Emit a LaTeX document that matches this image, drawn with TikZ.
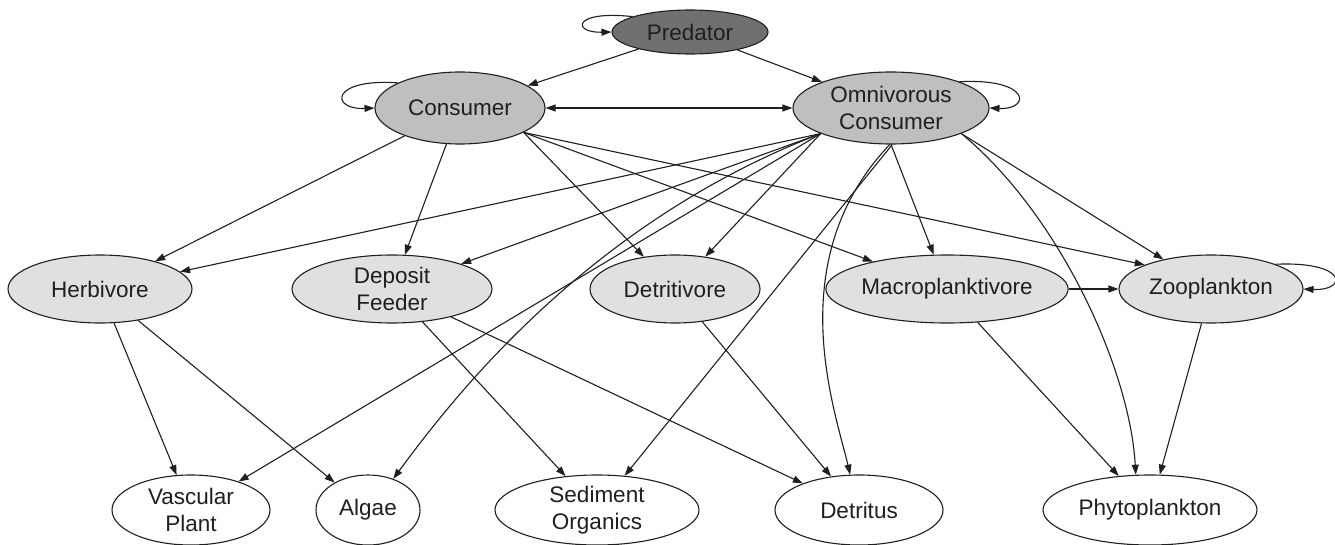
\documentclass[tikz,border=0pt]{standalone}
\usepackage{fontspec}
\setmainfont{Liberation Sans}
\usetikzlibrary{arrows.meta,shapes.geometric}
\definecolor{predc}{gray}{0.44}
\definecolor{consc}{gray}{0.75}
\definecolor{midc}{gray}{0.88}
\definecolor{linec}{gray}{0.12}
\begin{document}
\begin{tikzpicture}[x=1pt,y=-1pt,
  every node/.style={font=\fontsize{22.5}{26.5}\selectfont, text=linec},
  nd/.style={ellipse, draw=linec, line width=1.1pt, inner sep=0pt, align=center},
  edge/.style={draw=linec, line width=1.1pt, -{Triangle[length=10pt,width=7pt]}},
  biedge/.style={draw=linec, line width=1.1pt, {Triangle[length=10pt,width=7pt]}-{Triangle[length=10pt,width=7pt]}},
 ]
\useasboundingbox (0,0) rectangle (1335,545);

% top
\node[nd, fill=predc, minimum width=156pt, minimum height=44pt] (pred) at (690,32) {Predator};
\node[nd, fill=consc, minimum width=170pt, minimum height=72pt] (cons) at (460,108) {Consumer};
\node[nd, fill=consc, minimum width=196pt, minimum height=72pt] (omni) at (891,108) {Omnivorous\\Consumer};
% middle
\node[nd, fill=midc, minimum width=184pt, minimum height=68pt] (herb) at (100,289) {Herbivore};
\node[nd, fill=midc, minimum width=200pt, minimum height=68pt] (depo) at (392,289) {Deposit\\Feeder};
\node[nd, fill=midc, minimum width=170pt, minimum height=68pt] (detv) at (675,289) {Detritivore};
\node[nd, fill=midc, minimum width=240pt, minimum height=68pt] (macro) at (947,289) {Macroplanktivore};
\node[nd, fill=midc, minimum width=184pt, minimum height=68pt] (zoo) at (1211,289) {Zooplankton};
% bottom
\node[nd, fill=white, minimum width=158pt, minimum height=70pt] (vasc) at (191,510) {Vascular\\Plant};
\node[nd, fill=white, minimum width=104pt, minimum height=70pt] (alg) at (368,510) {Algae};
\node[nd, fill=white, minimum width=204pt, minimum height=70pt] (sed) at (597,510) {Sediment\\Organics};
\node[nd, fill=white, minimum width=168pt, minimum height=70pt] (detr) at (859,510) {Detritus};
\node[nd, fill=white, minimum width=214pt, minimum height=70pt] (phyto) at (1150,510) {Phytoplankton};

% self loops
\draw[edge] (pred.165) .. controls (572,10) and (572,33) .. (pred.west);
\draw[edge] (cons.158) .. controls (330,78) and (330,110) .. (cons.west);
\draw[edge] (omni.21) .. controls (1031,78) and (1031,110) .. (omni.east);
\draw[edge] (zoo.21) .. controls (1348,261) and (1348,291) .. (zoo.east);

% top level
\draw[edge] (pred) -- (cons);
\draw[edge] (pred) -- (omni);
\draw[biedge] (cons) -- (omni);

% consumer
\draw[edge] (cons) -- (herb);
\draw[edge] (cons) -- (depo);
\draw[edge] (cons.339) -- (detv);
\draw[edge] (cons.339) -- (macro);
\draw[edge] (cons.339) -- (zoo.160);

% omnivorous consumer
\draw[edge] (omni.200) -- (herb);
\draw[edge] (omni.200) -- (depo);
\draw[edge] (omni.200) -- (vasc);
\draw[edge] (omni.200) .. controls (590,222) and (455,395) .. (alg.51);
\draw[edge] (omni.200) -- (detv);
\draw[edge] (omni.272) -- (sed);
\draw[edge] (omni.268) .. controls (780,260) and (835,410) .. (detr.104);
\draw[edge] (omni.270) -- (macro);
\draw[edge] (omni.340) .. controls (1060,215) and (1130,370) .. (phyto.112);
\draw[edge] (omni.340) -- (zoo);

% middle row
\draw[edge] (macro) -- (zoo);
\draw[edge] (herb) -- (vasc);
\draw[edge] (herb) -- (alg);
\draw[edge] (depo) -- (sed);
\draw[edge] (depo) -- (detr);
\draw[edge] (detv) -- (detr);
\draw[edge] (macro) -- (phyto);
\draw[edge] (zoo) -- (phyto);
\end{tikzpicture}
\end{document}
